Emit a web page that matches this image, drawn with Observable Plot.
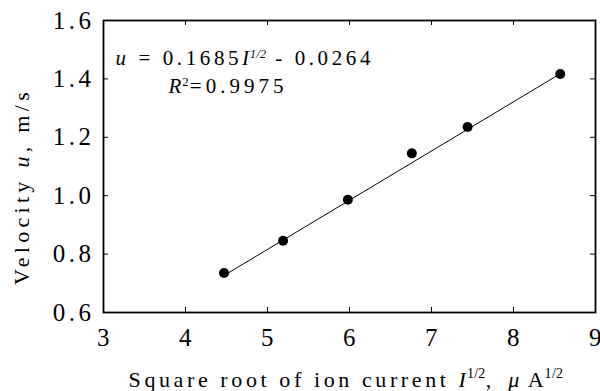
<!DOCTYPE html>
<html><head><meta charset="utf-8">
<script src="https://cdn.jsdelivr.net/npm/d3@7"></script>
<script src="https://cdn.jsdelivr.net/npm/@observablehq/plot@0.6"></script>
<style>
body{margin:0;background:#fff;}
#chart svg{display:block;}
#xcaption{width:600px;height:28px;box-sizing:content-box;padding-top:3px;padding-left:92px;margin-left:0;
  font-family:"Liberation Serif";font-size:22px;line-height:22px;letter-spacing:3.6px;white-space:pre;color:#000;overflow:visible;box-sizing:border-box;height:31px;text-align:center;}
#xcaption .sup{font-size:14px;vertical-align:9px;letter-spacing:0.3px;}
#xcaption i{font-style:italic;}
</style>
</head><body>
<div id="chart"></div>
<div id="xcaption"></div>
<script>
// Data
const sqrtCurrent = [4.47, 5.19, 5.98, 6.76, 7.44, 8.57];
const velocity    = [0.735, 0.846, 0.986, 1.145, 1.235, 1.417];
const xTicks = [3, 4, 5, 6, 7, 8, 9];
const yTicks = [0.6, 0.8, 1.0, 1.2, 1.4, 1.6];
const fitSlope = 0.1685;
const fitIntercept = -0.0264;
const fitXRange = [4.47, 8.57];

const points = sqrtCurrent.map((x, i) => ({x, y: velocity[i]}));
const fitLine = fitXRange.map(x => ({x, y: fitSlope * x + fitIntercept}));

const W = 600, H = 360, mL = 103, mR = 5, mT = 20, mB = 48;
const innerW = W - mL - mR, innerH = H - mT - mB;
const tickLen = 5;
const FONT = "Liberation Serif";

const plot = Plot.plot({
  width: W, height: H,
  marginLeft: mL, marginRight: mR, marginTop: mT, marginBottom: mB,
  style: {background: "#fff", color: "#000", overflow: "visible"},
  x: {domain: [3, 9]},
  y: {domain: [0.6, 1.6]},
  marks: [
    Plot.axisX(xTicks, {anchor: "bottom", tickSize: 0, tickPadding: 16, fontSize: 25, label: null, tickFormat: d => String(d), dx: 1.5}),
    Plot.axisY(yTicks, {anchor: "left", tickSize: 0, tickPadding: 9, fontSize: 25, label: null, tickFormat: d3.format(".1f")}),
    // inward ticks on all four sides
    Plot.tickX(xTicks, {x: d => d, insetTop: innerH - tickLen, stroke: "#000", strokeWidth: 1}),
    Plot.tickX(xTicks, {x: d => d, insetBottom: innerH - tickLen, stroke: "#000", strokeWidth: 1}),
    Plot.tickY(yTicks, {y: d => d, insetRight: innerW - tickLen, stroke: "#000", strokeWidth: 1}),
    Plot.tickY(yTicks, {y: d => d, insetLeft: innerW - tickLen, stroke: "#000", strokeWidth: 1}),
    Plot.frame({stroke: "#000", strokeWidth: 1.8}),
    Plot.line(fitLine, {x: "x", y: "y", stroke: "#000", strokeWidth: 1}),
    Plot.dot(points, {x: "x", y: "y", r: 5, fill: "#000", stroke: "none"}),
    Plot.text([0], {text: () => "eq1", frameAnchor: "top-left", textAnchor: "start", dx: 12, dy: 30, fontSize: 21}),
    Plot.text([0], {text: () => "eq2", frameAnchor: "top-left", textAnchor: "start", dx: 65, dy: 58, fontSize: 21}),
    Plot.text([0], {text: () => "ylabel", frameAnchor: "left", textAnchor: "middle", rotate: -90, dx: -82, dy: 20, fontSize: 22})
  ]
});

document.getElementById("chart").appendChild(plot);
const svg = d3.select(plot);

function rich(key, parts, spacing) {
  const t = svg.selectAll("text").filter(function() { return this.textContent === key; });
  t.text(null).attr("letter-spacing", spacing).style("white-space", "pre");
  let shift = 0;
  for (const p of parts) {
    const ts = t.append("tspan").text(p.t);
    if (p.italic) ts.attr("font-style", "italic");
    const target = p.sup ? -p.sup : 0;
    if (target !== shift) { ts.attr("dy", (target - shift) + "px"); shift = target; }
    if (p.size) ts.attr("font-size", p.size);
    if (p.ls != null) ts.attr("letter-spacing", p.ls + "px");
  }
}

rich("eq1", [
  {t: "u", italic: true}, {t: " = 0.1685"}, {t: "I", italic: true, ls: 1},
  {t: "1/2", italic: true, sup: 7, size: 12, ls: 0.3}, {t: " - 0.0264"}
], "3.6px");
rich("eq2", [
  {t: "R", italic: true, ls: 1}, {t: "2", sup: 7, size: 13, ls: 1}, {t: "=0.9975"}
], "4px");
rich("ylabel", [
  {t: "Velocity "}, {t: "u", italic: true}, {t: ", m/s"}
], "4.3px");

svg.selectAll("text").style("font-family", FONT).attr("font-family", FONT);
svg.selectAll('g[aria-label="x-axis tick label"] text, g[aria-label="y-axis tick label"] text').attr("letter-spacing", "3.5px");

// x-axis title as a caption below the SVG
const cap = d3.select("#xcaption");
cap.append("span").text("Square root of ion current ");
cap.append("i").style("letter-spacing", "1px").text("I");
cap.append("span").attr("class", "sup").text("1/2");
cap.append("span").style("letter-spacing", "2px").text(",  ");
cap.append("i").style("letter-spacing", "2px").text("μ");
cap.append("span").style("letter-spacing", "1px").text(" A");
cap.append("span").attr("class", "sup").text("1/2");
</script>
</body></html>
